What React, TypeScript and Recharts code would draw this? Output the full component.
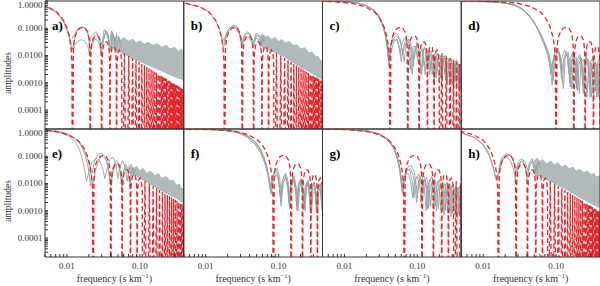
import React from 'react';
import { ComposedChart, Line, Area, XAxis, YAxis } from 'recharts';

const ZERO = 1e-9;
const W = 600;
const H = 286;
const PW = 138.75;
const PH = 128;
const COL_X = [45, 183.75, 322.5, 461.25];
const ROW_Y = [1, 129];
const X_DOMAIN = [0.005, 0.4];
const Y_DOMAIN = [2e-5, 1];

const panelNames = ['a)', 'b)', 'c)', 'd)', 'e)', 'f)', 'g)', 'h)'];
// first-zero scale of the red model for each panel (read from the null positions)
const panelScale = [55.5, 36.5, 15.7, 6.63, 29, 7.8, 10, 41];

const xTicksLabelled = [0.01, 0.1];
const xTicks = [0.005, 0.006, 0.007, 0.008, 0.009, 0.01, 0.02, 0.03, 0.04, 0.05, 0.06, 0.07, 0.08, 0.09, 0.1, 0.2, 0.3, 0.4];
const yTicksLabelled = [0.0001, 0.001, 0.01, 0.1, 1];
const yTicks = [
  3e-5, 4e-5, 5e-5, 6e-5, 7e-5, 8e-5, 9e-5, 1e-4,
  2e-4, 3e-4, 4e-4, 5e-4, 6e-4, 7e-4, 8e-4, 9e-4, 1e-3,
  2e-3, 3e-3, 4e-3, 5e-3, 6e-3, 7e-3, 8e-3, 9e-3, 0.01,
  0.02, 0.03, 0.04, 0.05, 0.06, 0.07, 0.08, 0.09, 0.1,
  0.2, 0.3, 0.4, 0.5, 0.6, 0.7, 0.8, 0.9, 1,
];

// red model profile: [f * scale, amplitude]
const redProfile = [
  [0.02, 1.0], [0.1, 0.96], [0.2, 0.82], [0.3, 0.62], [0.4, 0.4], [0.45, 0.29], [0.5, 0.19], [0.55, 0.11], [0.6, 0.048], [0.63, 0.02], [0.65, 0.006], [0.66, ZERO],
  [0.68, 0.02], [0.71, 0.045], [0.76, 0.075], [0.83, 0.1], [0.91, 0.108], [0.99, 0.1], [1.06, 0.075], [1.11, 0.045], [1.14, 0.02], [1.162, ZERO],
  [1.18, 0.01], [1.21, 0.023], [1.26, 0.038], [1.33, 0.05], [1.41, 0.0525], [1.49, 0.05], [1.56, 0.038], [1.61, 0.023], [1.64, 0.01], [1.661, ZERO],
  [1.68, 0.006], [1.71, 0.014], [1.76, 0.023], [1.83, 0.03], [1.91, 0.032], [1.99, 0.03], [2.06, 0.023], [2.11, 0.014], [2.14, 0.006], [2.159, ZERO],
  [2.18, 0.004], [2.21, 0.0095], [2.3, 0.019], [2.41, 0.0217], [2.52, 0.019], [2.61, 0.0095], [2.64, 0.004], [2.659, ZERO],
  [2.69, 0.005], [2.78, 0.013], [2.91, 0.0159], [3.04, 0.013], [3.13, 0.005], [3.159, ZERO],
  [3.41, 0.0122], [3.659, ZERO], [3.91, 0.0097], [4.159, ZERO], [4.41, 0.008], [4.659, ZERO],
  [4.91, 0.0067], [5.159, ZERO], [5.41, 0.0057], [5.659, ZERO], [5.91, 0.0049], [6.159, ZERO],
  [6.41, 0.0043], [6.659, ZERO], [6.91, 0.0038], [7.159, ZERO], [7.41, 0.0034], [7.659, ZERO],
  [7.91, 0.00305], [8.159, ZERO], [8.41, 0.00275], [8.659, ZERO], [8.91, 0.0025], [9.159, ZERO],
  [9.41, 0.0023], [9.659, ZERO], [9.91, 0.0021], [10.159, ZERO], [10.41, 0.00194], [10.659, ZERO],
  [10.91, 0.00179], [11.159, ZERO], [11.41, 0.00166], [11.659, ZERO], [11.91, 0.00155], [12.159, ZERO],
  [12.41, 0.00145], [12.659, ZERO], [12.91, 0.00136], [13.159, ZERO], [13.41, 0.00127], [13.659, ZERO],
  [13.91, 0.0012], [14.159, ZERO], [14.41, 0.00113], [14.659, ZERO], [14.91, 0.00107], [15.159, ZERO],
  [15.41, 0.00101], [15.659, ZERO], [15.91, 0.00096], [16.159, ZERO], [16.41, 0.00091], [16.659, ZERO],
  [16.91, 0.00087], [17.159, ZERO], [17.41, 0.00083], [17.659, ZERO], [17.91, 0.00079], [18.159, ZERO],
  [18.41, 0.00076], [18.659, ZERO], [18.91, 0.00072], [19.159, ZERO], [19.41, 0.00069], [19.659, ZERO],
  [19.91, 0.00066], [20.159, ZERO], [20.41, 0.00064], [20.659, ZERO], [20.91, 0.00061], [21.159, ZERO],
  [21.41, 0.00059], [21.659, ZERO], [21.91, 0.00057], [22.159, ZERO], [22.41, 0.00055], [22.659, ZERO],
  [22.91, 0.00053], [23.159, ZERO],
];

// gray curves [f, amplitude]
const grayA1 = [[0.005, 0.66], [0.0072, 0.4], [0.009, 0.19], [0.0105, 0.07], [0.0112, 0.03], [0.0117, 0.016], [0.0122, 0.02], [0.0128, 0.05], [0.0137, 0.08], [0.0149, 0.1], [0.0164, 0.11], [0.0178, 0.1], [0.0191, 0.075], [0.02, 0.04], [0.0207, 0.012], [0.0214, 0.02], [0.0227, 0.045], [0.0254, 0.062], [0.028, 0.045], [0.0293, 0.015], [0.0303, 0.02], [0.033, 0.06], [0.0345, 0.065], [0.037, 0.04], [0.0385, 0.015], [0.0395, 0.02], [0.042, 0.055], [0.044, 0.05], [0.047, 0.012], [0.049, 0.03], [0.052, 0.045], [0.055, 0.02]];
const grayA2 = [[0.005, 0.64], [0.0072, 0.38], [0.009, 0.17], [0.0105, 0.06], [0.0115, 0.025], [0.0122, 0.016], [0.013, 0.025], [0.0145, 0.035], [0.016, 0.038], [0.0178, 0.033], [0.0195, 0.02], [0.0205, 0.01], [0.0215, 0.02], [0.024, 0.04], [0.027, 0.035], [0.0295, 0.012], [0.031, 0.03], [0.034, 0.08], [0.037, 0.05], [0.0395, 0.015], [0.042, 0.07], [0.045, 0.04]];
const grayA3 = [[0.0118, 0.04], [0.0125, 0.06], [0.0145, 0.1], [0.0165, 0.115], [0.019, 0.08], [0.0205, 0.03], [0.0215, 0.05], [0.025, 0.075], [0.0285, 0.04], [0.03, 0.025], [0.0325, 0.09], [0.036, 0.07], [0.0385, 0.03], [0.041, 0.08], [0.043, 0.06], [0.046, 0.03], [0.048, 0.07]];
const grayB1 = [[0.005, 0.82], [0.0082, 0.62], [0.011, 0.4], [0.0137, 0.19], [0.0155, 0.09], [0.0168, 0.04], [0.0175, 0.02], [0.0182, 0.025], [0.019, 0.05], [0.0205, 0.09], [0.0227, 0.115], [0.025, 0.12], [0.0275, 0.1], [0.029, 0.07], [0.0305, 0.035], [0.0315, 0.02], [0.0325, 0.03], [0.034, 0.05], [0.037, 0.065], [0.0405, 0.06], [0.043, 0.04], [0.0452, 0.02], [0.047, 0.03], [0.05, 0.055], [0.054, 0.05], [0.057, 0.025], [0.06, 0.03], [0.064, 0.05], [0.068, 0.04]];
const grayB2 = [[0.0165, 0.05], [0.0178, 0.035], [0.019, 0.06], [0.021, 0.1], [0.024, 0.13], [0.027, 0.115], [0.03, 0.05], [0.032, 0.03], [0.034, 0.06], [0.038, 0.075], [0.042, 0.05], [0.0455, 0.03], [0.049, 0.065], [0.053, 0.06], [0.058, 0.03], [0.062, 0.055], [0.066, 0.05]];
const grayB3 = [[0.018, 0.03], [0.02, 0.07], [0.023, 0.1], [0.026, 0.1], [0.029, 0.06], [0.031, 0.025], [0.033, 0.04], [0.036, 0.05], [0.04, 0.045], [0.044, 0.025], [0.048, 0.045], [0.052, 0.04], [0.056, 0.02], [0.06, 0.04], [0.065, 0.035]];
const grayC1 = [[0.005, 1], [0.01, 0.96], [0.015, 0.85], [0.02, 0.65], [0.025, 0.45], [0.03, 0.24], [0.034, 0.11], [0.037, 0.045], [0.039, 0.015], [0.0405, 0.006], [0.042, 0.015], [0.046, 0.04], [0.05, 0.05], [0.055, 0.045], [0.06, 0.025], [0.063, 0.01], [0.066, 0.02], [0.072, 0.035], [0.078, 0.03], [0.083, 0.012], [0.088, 0.004], [0.093, 0.015], [0.1, 0.025], [0.107, 0.014], [0.112, 0.002], [0.118, 0.012], [0.126, 0.02], [0.134, 0.008], [0.14, 0.003], [0.147, 0.012], [0.155, 0.015], [0.163, 0.006], [0.17, 0.001], [0.178, 0.009], [0.19, 0.012], [0.2, 0.004], [0.21, 0.0015], [0.22, 0.008], [0.235, 0.01], [0.25, 0.003], [0.26, 0.0008], [0.27, 0.006], [0.29, 0.008], [0.305, 0.002], [0.315, 0.0006], [0.325, 0.005], [0.345, 0.007], [0.36, 0.002], [0.37, 0.0005], [0.38, 0.004], [0.4, 0.005]];
const grayC2 = [[0.005, 1], [0.012, 0.93], [0.018, 0.75], [0.023, 0.55], [0.028, 0.33], [0.032, 0.17], [0.036, 0.07], [0.039, 0.025], [0.041, 0.008], [0.0425, 0.02], [0.047, 0.06], [0.052, 0.065], [0.058, 0.04], [0.062, 0.015], [0.066, 0.006], [0.07, 0.025], [0.076, 0.04], [0.082, 0.025], [0.087, 0.007], [0.092, 0.01], [0.098, 0.03], [0.104, 0.02], [0.11, 0.005], [0.115, 0.002], [0.122, 0.018], [0.13, 0.015], [0.137, 0.003], [0.145, 0.016], [0.152, 0.01], [0.16, 0.002], [0.168, 0.01], [0.18, 0.013], [0.19, 0.003], [0.2, 0.001], [0.21, 0.01], [0.225, 0.009], [0.24, 0.002], [0.252, 0.007], [0.265, 0.008], [0.28, 0.001], [0.29, 0.006], [0.31, 0.007], [0.325, 0.001], [0.335, 0.005], [0.355, 0.005], [0.37, 0.0009], [0.385, 0.004], [0.4, 0.004]];
const grayC3 = [[0.025, 0.5], [0.03, 0.28], [0.034, 0.13], [0.037, 0.05], [0.04, 0.012], [0.044, 0.03], [0.049, 0.04], [0.054, 0.03], [0.058, 0.012], [0.062, 0.03], [0.068, 0.045], [0.075, 0.02], [0.08, 0.003], [0.086, 0.02], [0.094, 0.022], [0.1, 0.008], [0.105, 0.012], [0.115, 0.016], [0.124, 0.004], [0.13, 0.011], [0.14, 0.012], [0.148, 0.002], [0.158, 0.01], [0.17, 0.008], [0.18, 0.0015], [0.19, 0.008], [0.205, 0.007], [0.215, 0.001], [0.23, 0.006], [0.245, 0.006], [0.255, 0.001], [0.27, 0.005], [0.285, 0.005], [0.3, 0.0008], [0.31, 0.004], [0.33, 0.0045], [0.345, 0.0007], [0.36, 0.004], [0.38, 0.004], [0.39, 0.0006], [0.4, 0.003]];
const grayC4 = [[0.005, 1], [0.014, 0.88], [0.02, 0.7], [0.026, 0.45], [0.031, 0.22], [0.035, 0.09], [0.038, 0.03], [0.0395, 0.01], [0.041, 0.004], [0.043, 0.012], [0.048, 0.035], [0.053, 0.04], [0.057, 0.02], [0.06, 0.006], [0.064, 0.02], [0.07, 0.04], [0.077, 0.028], [0.081, 0.006], [0.085, 0.002], [0.09, 0.018], [0.097, 0.022], [0.103, 0.006], [0.108, 0.012], [0.116, 0.018], [0.123, 0.006], [0.128, 0.002], [0.136, 0.014], [0.144, 0.013], [0.152, 0.003], [0.16, 0.01], [0.172, 0.011], [0.182, 0.002], [0.192, 0.009], [0.205, 0.01], [0.215, 0.002], [0.225, 0.007], [0.24, 0.008], [0.25, 0.0015], [0.262, 0.006], [0.278, 0.007], [0.29, 0.001], [0.3, 0.005], [0.318, 0.006], [0.33, 0.0012], [0.342, 0.005], [0.362, 0.006], [0.375, 0.001], [0.39, 0.005], [0.4, 0.004]];
const grayD1 = [[0.005, 1], [0.01, 0.98], [0.02, 0.85], [0.028, 0.68], [0.035, 0.48], [0.042, 0.3], [0.049, 0.18], [0.056, 0.1], [0.064, 0.05], [0.072, 0.025], [0.08, 0.011], [0.087, 0.004], [0.091, 0.0012], [0.095, 0.004], [0.102, 0.012], [0.11, 0.014], [0.117, 0.006], [0.122, 0.001], [0.128, 0.007], [0.14, 0.012], [0.15, 0.005], [0.156, 0.0007], [0.165, 0.006], [0.178, 0.01], [0.19, 0.003], [0.196, 0.0005], [0.206, 0.005], [0.222, 0.008], [0.236, 0.002], [0.244, 0.0004], [0.258, 0.005], [0.278, 0.007], [0.294, 0.0015], [0.305, 0.0003], [0.32, 0.004], [0.345, 0.006], [0.365, 0.0015], [0.375, 0.0003], [0.39, 0.004], [0.4, 0.005]];
const grayD2 = [[0.005, 1], [0.012, 0.97], [0.022, 0.82], [0.03, 0.62], [0.038, 0.4], [0.046, 0.22], [0.054, 0.11], [0.062, 0.05], [0.07, 0.022], [0.078, 0.01], [0.084, 0.003], [0.088, 0.0008], [0.094, 0.006], [0.104, 0.016], [0.114, 0.01], [0.12, 0.002], [0.126, 0.0006], [0.134, 0.009], [0.146, 0.013], [0.158, 0.004], [0.164, 0.0006], [0.174, 0.007], [0.188, 0.009], [0.2, 0.002], [0.208, 0.0004], [0.22, 0.006], [0.24, 0.007], [0.255, 0.002], [0.265, 0.0003], [0.28, 0.005], [0.3, 0.006], [0.318, 0.001], [0.326, 0.0002], [0.34, 0.004], [0.365, 0.005], [0.382, 0.001], [0.39, 0.0003], [0.4, 0.003]];
const grayD3 = [[0.005, 1], [0.015, 0.93], [0.025, 0.75], [0.033, 0.56], [0.04, 0.36], [0.048, 0.2], [0.056, 0.09], [0.065, 0.038], [0.073, 0.017], [0.08, 0.007], [0.085, 0.002], [0.09, 0.006], [0.098, 0.016], [0.106, 0.018], [0.113, 0.008], [0.118, 0.0015], [0.124, 0.005], [0.136, 0.014], [0.147, 0.007], [0.153, 0.001], [0.16, 0.005], [0.172, 0.011], [0.183, 0.004], [0.19, 0.0006], [0.2, 0.006], [0.215, 0.009], [0.228, 0.002], [0.236, 0.0004], [0.248, 0.005], [0.268, 0.008], [0.283, 0.002], [0.292, 0.0003], [0.305, 0.005], [0.33, 0.006], [0.35, 0.0015], [0.358, 0.0003], [0.37, 0.004], [0.39, 0.005], [0.4, 0.002]];
const grayD4 = [[0.005, 1], [0.018, 0.88], [0.027, 0.7], [0.036, 0.46], [0.044, 0.27], [0.052, 0.14], [0.06, 0.065], [0.068, 0.03], [0.076, 0.014], [0.082, 0.006], [0.087, 0.0025], [0.092, 0.008], [0.1, 0.02], [0.108, 0.015], [0.115, 0.004], [0.12, 0.008], [0.13, 0.016], [0.142, 0.01], [0.15, 0.002], [0.158, 0.008], [0.168, 0.013], [0.18, 0.006], [0.186, 0.001], [0.195, 0.007], [0.21, 0.011], [0.225, 0.004], [0.232, 0.0008], [0.244, 0.006], [0.262, 0.009], [0.278, 0.003], [0.286, 0.0006], [0.298, 0.006], [0.322, 0.008], [0.342, 0.002], [0.35, 0.0005], [0.362, 0.005], [0.385, 0.007], [0.4, 0.003]];
const grayE1 = [[0.005, 0.92], [0.008, 0.8], [0.011, 0.6], [0.014, 0.38], [0.016, 0.22], [0.018, 0.1], [0.0195, 0.04], [0.0205, 0.015], [0.021, 0.008], [0.0218, 0.02], [0.024, 0.07], [0.027, 0.12], [0.03, 0.13], [0.033, 0.1], [0.036, 0.05], [0.038, 0.02], [0.0395, 0.01], [0.041, 0.025], [0.045, 0.06], [0.048, 0.07], [0.052, 0.05], [0.055, 0.02], [0.057, 0.01], [0.06, 0.03], [0.064, 0.05], [0.068, 0.035], [0.072, 0.012], [0.076, 0.025], [0.08, 0.04], [0.085, 0.03]];
const grayE2 = [[0.005, 0.9], [0.008, 0.75], [0.0105, 0.55], [0.0128, 0.35], [0.0148, 0.18], [0.0163, 0.08], [0.0175, 0.03], [0.0185, 0.012], [0.0195, 0.02], [0.022, 0.06], [0.025, 0.085], [0.028, 0.07], [0.031, 0.035], [0.033, 0.015], [0.035, 0.03], [0.039, 0.08], [0.043, 0.09], [0.047, 0.05], [0.05, 0.015], [0.053, 0.04], [0.058, 0.07], [0.063, 0.04], [0.067, 0.012], [0.071, 0.04], [0.077, 0.05], [0.082, 0.02], [0.087, 0.035]];
const grayE3 = [[0.005, 0.92], [0.009, 0.74], [0.012, 0.52], [0.015, 0.32], [0.0175, 0.16], [0.0195, 0.07], [0.021, 0.03], [0.0222, 0.012], [0.023, 0.008], [0.0245, 0.03], [0.028, 0.08], [0.031, 0.1], [0.035, 0.07], [0.038, 0.025], [0.04, 0.008], [0.042, 0.02], [0.046, 0.05], [0.05, 0.055], [0.054, 0.025], [0.0565, 0.006], [0.059, 0.025], [0.064, 0.04], [0.069, 0.03], [0.073, 0.008], [0.078, 0.03], [0.083, 0.035]];
const grayF1 = [[0.005, 1], [0.01, 0.99], [0.02, 0.9], [0.03, 0.75], [0.04, 0.52], [0.05, 0.3], [0.058, 0.16], [0.065, 0.07], [0.07, 0.03], [0.074, 0.012], [0.077, 0.006], [0.08, 0.01], [0.086, 0.025], [0.094, 0.03], [0.1, 0.014], [0.106, 0.003], [0.112, 0.012], [0.122, 0.022], [0.132, 0.01], [0.138, 0.002], [0.146, 0.01], [0.158, 0.018], [0.17, 0.007], [0.176, 0.0015], [0.186, 0.009], [0.2, 0.014], [0.214, 0.004], [0.22, 0.0012], [0.232, 0.008], [0.25, 0.012], [0.265, 0.003], [0.272, 0.001], [0.285, 0.007], [0.305, 0.011], [0.322, 0.003], [0.33, 0.001], [0.345, 0.007], [0.37, 0.009], [0.385, 0.002], [0.395, 0.001], [0.4, 0.003]];
const grayF2 = [[0.005, 1], [0.012, 0.97], [0.022, 0.85], [0.032, 0.66], [0.042, 0.42], [0.052, 0.22], [0.06, 0.11], [0.067, 0.05], [0.072, 0.02], [0.076, 0.008], [0.079, 0.004], [0.083, 0.01], [0.09, 0.02], [0.098, 0.018], [0.104, 0.006], [0.108, 0.0015], [0.116, 0.011], [0.127, 0.017], [0.137, 0.006], [0.142, 0.0012], [0.152, 0.009], [0.165, 0.014], [0.178, 0.004], [0.184, 0.001], [0.195, 0.008], [0.21, 0.012], [0.224, 0.003], [0.23, 0.001], [0.242, 0.007], [0.26, 0.01], [0.276, 0.002], [0.283, 0.0008], [0.296, 0.006], [0.318, 0.008], [0.334, 0.0018], [0.34, 0.0008], [0.356, 0.005], [0.38, 0.008], [0.4, 0.002]];
const grayF3 = [[0.005, 1], [0.015, 0.95], [0.025, 0.82], [0.035, 0.62], [0.045, 0.4], [0.055, 0.2], [0.063, 0.09], [0.069, 0.04], [0.074, 0.016], [0.078, 0.008], [0.081, 0.014], [0.088, 0.03], [0.096, 0.036], [0.103, 0.018], [0.109, 0.004], [0.115, 0.014], [0.125, 0.024], [0.135, 0.012], [0.141, 0.003], [0.15, 0.012], [0.162, 0.019], [0.175, 0.007], [0.181, 0.0015], [0.19, 0.01], [0.205, 0.015], [0.218, 0.005], [0.225, 0.0012], [0.237, 0.009], [0.255, 0.013], [0.27, 0.004], [0.277, 0.001], [0.29, 0.008], [0.31, 0.011], [0.328, 0.003], [0.336, 0.001], [0.35, 0.007], [0.375, 0.01], [0.39, 0.003], [0.4, 0.0015]];
const grayF4 = [[0.005, 1], [0.018, 0.9], [0.028, 0.72], [0.038, 0.48], [0.048, 0.26], [0.057, 0.13], [0.064, 0.06], [0.07, 0.025], [0.075, 0.01], [0.078, 0.005], [0.082, 0.012], [0.089, 0.024], [0.097, 0.022], [0.102, 0.008], [0.107, 0.002], [0.114, 0.01], [0.124, 0.016], [0.134, 0.007], [0.14, 0.0015], [0.148, 0.009], [0.16, 0.015], [0.172, 0.005], [0.179, 0.001], [0.188, 0.008], [0.202, 0.012], [0.216, 0.003], [0.222, 0.001], [0.234, 0.007], [0.252, 0.011], [0.268, 0.003], [0.275, 0.001], [0.288, 0.007], [0.308, 0.01], [0.325, 0.002], [0.333, 0.0008], [0.347, 0.006], [0.372, 0.009], [0.388, 0.002], [0.4, 0.002]];
const grayG1 = [[0.005, 1], [0.01, 0.98], [0.02, 0.88], [0.03, 0.68], [0.04, 0.42], [0.047, 0.22], [0.052, 0.11], [0.056, 0.05], [0.059, 0.02], [0.061, 0.008], [0.063, 0.004], [0.066, 0.012], [0.072, 0.03], [0.08, 0.035], [0.088, 0.02], [0.094, 0.006], [0.098, 0.002], [0.103, 0.01], [0.113, 0.02], [0.122, 0.012], [0.128, 0.003], [0.132, 0.001], [0.138, 0.008], [0.15, 0.015], [0.162, 0.006], [0.168, 0.0012], [0.175, 0.007], [0.19, 0.012], [0.204, 0.004], [0.21, 0.001], [0.22, 0.006], [0.24, 0.01], [0.255, 0.003], [0.262, 0.0008], [0.275, 0.006], [0.295, 0.008], [0.312, 0.002], [0.32, 0.0007], [0.335, 0.005], [0.36, 0.007], [0.378, 0.0015], [0.386, 0.0006], [0.4, 0.004]];
const grayG2 = [[0.005, 1], [0.012, 0.96], [0.022, 0.83], [0.032, 0.6], [0.041, 0.36], [0.048, 0.18], [0.053, 0.08], [0.057, 0.03], [0.06, 0.01], [0.062, 0.005], [0.065, 0.015], [0.07, 0.025], [0.076, 0.022], [0.082, 0.009], [0.086, 0.003], [0.091, 0.012], [0.1, 0.018], [0.108, 0.008], [0.112, 0.002], [0.118, 0.01], [0.128, 0.014], [0.138, 0.005], [0.143, 0.0012], [0.15, 0.008], [0.165, 0.012], [0.178, 0.004], [0.184, 0.001], [0.193, 0.007], [0.21, 0.01], [0.225, 0.003], [0.232, 0.0007], [0.245, 0.006], [0.265, 0.008], [0.282, 0.002], [0.29, 0.0006], [0.305, 0.005], [0.33, 0.007], [0.348, 0.0015], [0.356, 0.0005], [0.37, 0.004], [0.4, 0.006]];
const grayG3 = [[0.005, 1], [0.015, 0.93], [0.025, 0.77], [0.035, 0.52], [0.043, 0.3], [0.05, 0.14], [0.055, 0.065], [0.058, 0.03], [0.061, 0.012], [0.064, 0.006], [0.067, 0.015], [0.074, 0.04], [0.083, 0.045], [0.091, 0.025], [0.097, 0.008], [0.1, 0.003], [0.106, 0.012], [0.117, 0.025], [0.127, 0.015], [0.134, 0.004], [0.138, 0.0012], [0.145, 0.01], [0.158, 0.018], [0.17, 0.008], [0.177, 0.0015], [0.185, 0.008], [0.2, 0.014], [0.215, 0.005], [0.222, 0.001], [0.232, 0.007], [0.252, 0.011], [0.268, 0.003], [0.276, 0.0008], [0.29, 0.006], [0.312, 0.009], [0.33, 0.002], [0.338, 0.0006], [0.352, 0.005], [0.378, 0.008], [0.395, 0.002], [0.4, 0.001]];
const grayG4 = [[0.005, 1], [0.014, 0.94], [0.024, 0.78], [0.034, 0.55], [0.042, 0.33], [0.049, 0.16], [0.054, 0.075], [0.058, 0.032], [0.06, 0.015], [0.063, 0.007], [0.066, 0.018], [0.072, 0.035], [0.079, 0.03], [0.085, 0.012], [0.09, 0.003], [0.095, 0.014], [0.104, 0.022], [0.112, 0.01], [0.117, 0.002], [0.123, 0.012], [0.134, 0.017], [0.146, 0.006], [0.152, 0.0015], [0.16, 0.009], [0.174, 0.014], [0.188, 0.005], [0.195, 0.0012], [0.204, 0.008], [0.222, 0.012], [0.238, 0.004], [0.245, 0.001], [0.256, 0.007], [0.278, 0.01], [0.296, 0.003], [0.304, 0.0008], [0.318, 0.006], [0.345, 0.008], [0.364, 0.002], [0.372, 0.0007], [0.386, 0.005], [0.4, 0.006]];
const grayH1 = [[0.005, 0.74], [0.0075, 0.5], [0.0098, 0.29], [0.011, 0.19], [0.0122, 0.11], [0.0134, 0.05], [0.0145, 0.022], [0.0152, 0.013], [0.016, 0.015], [0.0168, 0.03], [0.018, 0.07], [0.02, 0.1], [0.022, 0.11], [0.0243, 0.1], [0.026, 0.07], [0.0272, 0.04], [0.028, 0.022], [0.029, 0.025], [0.031, 0.05], [0.034, 0.065], [0.037, 0.05], [0.039, 0.025], [0.0405, 0.018], [0.042, 0.03], [0.045, 0.06], [0.048, 0.05], [0.051, 0.022], [0.054, 0.04], [0.058, 0.06], [0.062, 0.035]];
const grayH2 = [[0.005, 0.72], [0.0075, 0.48], [0.01, 0.26], [0.0122, 0.1], [0.0138, 0.035], [0.0148, 0.015], [0.0158, 0.02], [0.017, 0.045], [0.019, 0.08], [0.021, 0.09], [0.0235, 0.07], [0.026, 0.035], [0.0275, 0.015], [0.029, 0.035], [0.032, 0.06], [0.035, 0.07], [0.038, 0.035], [0.04, 0.015], [0.043, 0.045], [0.047, 0.07], [0.05, 0.04], [0.053, 0.015], [0.057, 0.05], [0.061, 0.055]];
const grayH3 = [[0.0165, 0.04], [0.018, 0.09], [0.021, 0.125], [0.024, 0.11], [0.027, 0.05], [0.0285, 0.035], [0.031, 0.07], [0.034, 0.08], [0.038, 0.06], [0.0405, 0.03], [0.043, 0.06], [0.047, 0.085], [0.05, 0.05], [0.053, 0.03], [0.056, 0.06], [0.06, 0.07]];

// dense gray noise bands: [f, low, high]
const bandA = [[0.04, 0.02, 0.06], [0.045, 0.016, 0.045], [0.05, 0.014, 0.055], [0.055, 0.012, 0.038], [0.06, 0.011, 0.048], [0.07, 0.009, 0.035], [0.08, 0.0075, 0.042], [0.09, 0.0065, 0.03], [0.1, 0.0058, 0.036], [0.115, 0.005, 0.027], [0.13, 0.0043, 0.032], [0.15, 0.0036, 0.024], [0.17, 0.0031, 0.029], [0.2, 0.0026, 0.021], [0.23, 0.0022, 0.025], [0.26, 0.0019, 0.018], [0.3, 0.0016, 0.021], [0.34, 0.0014, 0.015], [0.37, 0.0013, 0.018], [0.4, 0.0012, 0.014]];
const bandB = [[0.055, 0.025, 0.05], [0.06, 0.02, 0.065], [0.065, 0.018, 0.045], [0.07, 0.016, 0.055], [0.08, 0.014, 0.04], [0.09, 0.012, 0.048], [0.1, 0.011, 0.034], [0.11, 0.0095, 0.04], [0.125, 0.008, 0.03], [0.14, 0.0065, 0.034], [0.16, 0.0052, 0.024], [0.18, 0.0043, 0.026], [0.2, 0.0036, 0.018], [0.23, 0.003, 0.02], [0.26, 0.0025, 0.013], [0.29, 0.0021, 0.014], [0.32, 0.0018, 0.0095], [0.35, 0.0015, 0.0095], [0.38, 0.0013, 0.0065], [0.4, 0.0012, 0.0065]];
const bandE = [[0.07, 0.025, 0.05], [0.08, 0.02, 0.035], [0.09, 0.018, 0.045], [0.1, 0.016, 0.03], [0.11, 0.013, 0.038], [0.125, 0.011, 0.024], [0.14, 0.009, 0.03], [0.16, 0.0072, 0.02], [0.18, 0.006, 0.024], [0.2, 0.0052, 0.016], [0.23, 0.0043, 0.019], [0.26, 0.0036, 0.013], [0.29, 0.0031, 0.014], [0.32, 0.0027, 0.009], [0.35, 0.0023, 0.01], [0.38, 0.002, 0.0065], [0.4, 0.0018, 0.007]];
const bandH = [[0.05, 0.025, 0.07], [0.055, 0.021, 0.09], [0.06, 0.018, 0.065], [0.065, 0.016, 0.08], [0.075, 0.013, 0.055], [0.085, 0.011, 0.07], [0.095, 0.0095, 0.05], [0.105, 0.0085, 0.06], [0.12, 0.007, 0.042], [0.135, 0.006, 0.05], [0.15, 0.0051, 0.036], [0.17, 0.0042, 0.042], [0.19, 0.0035, 0.03], [0.21, 0.003, 0.035], [0.24, 0.0025, 0.026], [0.27, 0.0021, 0.03], [0.3, 0.0018, 0.022], [0.33, 0.0016, 0.025], [0.36, 0.0014, 0.018], [0.4, 0.0012, 0.02]];

const grayLines = [
  [grayA1, grayA2, grayA3],
  [grayB1, grayB2, grayB3],
  [grayC1, grayC2, grayC3, grayC4],
  [grayD1, grayD2, grayD3, grayD4],
  [grayE1, grayE2, grayE3],
  [grayF1, grayF2, grayF3, grayF4],
  [grayG1, grayG2, grayG3, grayG4],
  [grayH1, grayH2, grayH3],
];
const bands = [bandA, bandB, null, null, bandE, null, null, bandH];

const RED = '#e8252a';
const GRAY = '#93a4a4';
const BAND = '#a2aeae';
const FRAME = '#333';
const TEXT = '#333';
const FONT = '"Liberation Serif", "Times New Roman", serif';

function YTick(props: any) {
  const { x, y, payload } = props;
  const v = payload.value;
  if (!yTicksLabelled.includes(v)) return <g />;
  const yy = v === 1 ? y + 3.5 : y;
  return (
    <text x={x} y={yy} textAnchor="end" dominantBaseline="central" fontSize={9} fontFamily={FONT} fill={TEXT}>
      {v.toFixed(4)}
    </text>
  );
}

function XTick(props: any) {
  const { x, y, payload } = props;
  const v = payload.value;
  if (!xTicksLabelled.includes(v)) return <g />;
  return (
    <text x={x} y={y} dy="0.71em" textAnchor="middle" fontSize={9} fontFamily={FONT} fill={TEXT}>
      {v.toFixed(2)}
    </text>
  );
}

function Panel({ idx }: { idx: number }) {
  const col = idx % 4;
  const row = Math.floor(idx / 4);
  const x0 = COL_X[col];
  const y0 = ROW_Y[row];
  const scale = panelScale[idx];
  const red = redProfile.map(([z, a]) => ({ f: z / scale, a }));
  const grays = grayLines[idx].map((l) => l.map(([f, a]) => ({ f, a })));
  const bandRaw = bands[idx];
  const band = bandRaw ? bandRaw.map(([f, lo, hi]) => ({ f, r: [lo, hi] })) : null;
  const showY = col === 0;
  const showX = row === 1;
  const common = { type: 'number' as const, scale: 'log' as const, allowDataOverflow: true, interval: 0 as const };
  return (
    <div style={{ position: 'absolute', left: 0, top: 0 }}>
      <ComposedChart
        width={W}
        height={H}
        margin={{ left: x0 - 1, top: y0 - 1, right: W - x0 - PW - 1, bottom: H - y0 - PH - 1 }}
      >
        <XAxis xAxisId={0} dataKey="f" {...common} domain={X_DOMAIN} ticks={xTicks}
          tick={showX ? <XTick /> : false}
          tickSize={-3} tickMargin={9} height={1} axisLine={{ stroke: FRAME }} tickLine={{ stroke: FRAME }} />
        <XAxis xAxisId="xt" orientation="top" dataKey="f" {...common} domain={X_DOMAIN} ticks={xTicks}
          tick={false} tickSize={-3} height={1} axisLine={{ stroke: FRAME }} tickLine={{ stroke: FRAME }} />
        <YAxis yAxisId={0} {...common} domain={Y_DOMAIN} ticks={yTicks}
          tick={showY ? <YTick /> : false}
          tickSize={-3} tickMargin={5.5} width={1} axisLine={{ stroke: FRAME }} tickLine={{ stroke: FRAME }} />
        <YAxis yAxisId="yr" orientation="right" {...common} domain={Y_DOMAIN} ticks={yTicks}
          tick={false} tickSize={-3} width={1} axisLine={{ stroke: FRAME }} tickLine={{ stroke: FRAME }} />
        {band && (
          <Area data={band} dataKey="r" type="linear" stroke="none" fill={BAND} fillOpacity={0.85}
            isAnimationActive={false} dot={false} activeDot={false} />
        )}
        {grays.map((g, i) => (
          <Line key={i} data={g} dataKey="a" type="linear" stroke={GRAY} strokeWidth={0.9}
            dot={false} activeDot={false} isAnimationActive={false} />
        ))}
        <Line data={red} dataKey="a" type="linear" stroke={RED} strokeWidth={1.3} strokeDasharray="5 3"
          dot={false} activeDot={false} isAnimationActive={false} />
      </ComposedChart>
      <div style={{ position: 'absolute', left: x0 + 7, top: y0 + 18, fontFamily: FONT, fontWeight: 'bold', fontSize: 13, lineHeight: '13px', color: '#000' }}>
        {panelNames[idx]}
      </div>
    </div>
  );
}

export default function App() {
  const idxs = [0, 1, 2, 3, 4, 5, 6, 7];
  return (
    <div style={{ position: 'absolute', left: 0, top: 0, width: W, height: H, background: '#fff', overflow: 'hidden' }}>
      {idxs.map((i) => <Panel key={i} idx={i} />)}
      {ROW_Y.map((y, r) => (
        <div key={'yl' + r} style={{ position: 'absolute', left: 8, top: y + 72, fontFamily: FONT, fontSize: 9.5, color: TEXT, whiteSpace: 'nowrap', transform: 'translate(-50%, -50%) rotate(-90deg)' }}>
          amplitudes
        </div>
      ))}
      {COL_X.map((x, c) => (
        <div key={'xl' + c} style={{ position: 'absolute', left: x + PW / 2, top: 278, fontFamily: FONT, fontSize: 10, color: TEXT, whiteSpace: 'nowrap', transform: 'translate(-50%, -50%)' }}>
          frequency (s km<sup style={{ fontSize: 6.5, verticalAlign: 'top', lineHeight: '6px' }}>−1</sup>)
        </div>
      ))}
    </div>
  );
}
